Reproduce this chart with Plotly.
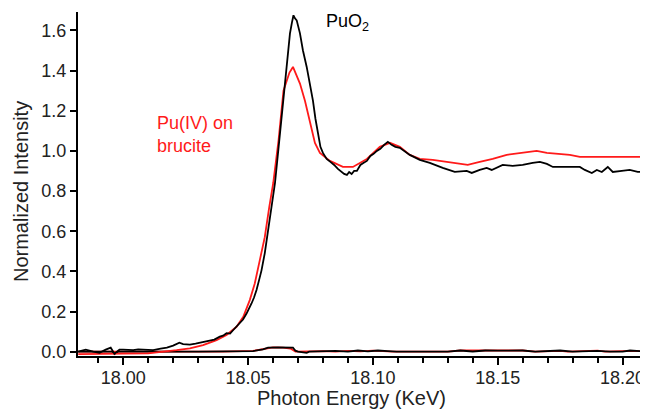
import plotly.graph_objects as go

# PuO2 spectrum (black)
puo2_energy = [17.9820, 17.9850, 17.9880, 17.9905, 17.9930, 17.9950, 17.9965, 17.9985, 18.0000, 18.0040,
               18.0060, 18.0090, 18.0120, 18.0150, 18.0175, 18.0200, 18.0225, 18.0240, 18.0267, 18.0290,
               18.0307, 18.0330, 18.0347, 18.0365, 18.0387, 18.0400, 18.0414, 18.0428, 18.0441, 18.0455,
               18.0467, 18.0480, 18.0494, 18.0505, 18.0514, 18.0524, 18.0534, 18.0545, 18.0554, 18.0567,
               18.0581, 18.0594, 18.0608, 18.0621, 18.0635, 18.0648, 18.0658, 18.0668, 18.0676, 18.0682,
               18.0688, 18.0695, 18.0708, 18.0720, 18.0735, 18.0748, 18.0760, 18.0770, 18.0780, 18.0790,
               18.0800, 18.0815, 18.0830, 18.0845, 18.0860, 18.0875, 18.0885, 18.0896, 18.0905, 18.0915,
               18.0925, 18.0936, 18.0950, 18.0962, 18.0976, 18.0990, 18.1003, 18.1016, 18.1030, 18.1045,
               18.1060, 18.1075, 18.1090, 18.1108, 18.1148, 18.1188, 18.1228, 18.1280, 18.1328, 18.1376,
               18.1396, 18.1428, 18.1456, 18.1476, 18.1520, 18.1560, 18.1600, 18.1640, 18.1669, 18.1697,
               18.1721, 18.1800, 18.1829, 18.1849, 18.1877, 18.1897, 18.1917, 18.1941, 18.1961, 18.1997,
               18.2029, 18.2061, 18.2089]
puo2_intensity = [0.000, 0.010, 0.000, -0.005, 0.010, 0.020, -0.010, 0.010, 0.010, 0.008,
                  0.012, 0.010, 0.008, 0.015, 0.020, 0.030, 0.045, 0.038, 0.035, 0.040,
                  0.045, 0.050, 0.058, 0.060, 0.075, 0.080, 0.092, 0.090, 0.108, 0.125,
                  0.142, 0.160, 0.190, 0.215, 0.240, 0.270, 0.307, 0.360, 0.405, 0.490,
                  0.605, 0.720, 0.840, 1.000, 1.170, 1.340, 1.470, 1.585, 1.640, 1.675,
                  1.660, 1.650, 1.585, 1.500, 1.418, 1.330, 1.250, 1.160, 1.085, 1.020,
                  0.990, 0.960, 0.945, 0.930, 0.910, 0.895, 0.885, 0.880, 0.895, 0.885,
                  0.900, 0.900, 0.930, 0.940, 0.950, 0.975, 0.985, 1.000, 1.010, 1.030,
                  1.045, 1.030, 1.020, 1.015, 0.980, 0.955, 0.940, 0.915, 0.895, 0.900,
                  0.890, 0.905, 0.915, 0.905, 0.930, 0.925, 0.930, 0.940, 0.945, 0.935,
                  0.920, 0.920, 0.920, 0.905, 0.890, 0.905, 0.895, 0.920, 0.895, 0.900,
                  0.905, 0.895, 0.895]

# Pu(IV) on brucite spectrum (red)
brucite_energy = [17.9820, 17.9900, 18.0000, 18.0100, 18.0150, 18.0214, 18.0267, 18.0320, 18.0374, 18.0414,
                  18.0454, 18.0481, 18.0507, 18.0527, 18.0547, 18.0567, 18.0585, 18.0601, 18.0614, 18.0622,
                  18.0642, 18.0666, 18.0680, 18.0708, 18.0728, 18.0748, 18.0768, 18.0788, 18.0828, 18.0880,
                  18.0920, 18.0976, 18.1028, 18.1068, 18.1108, 18.1148, 18.1188, 18.1240, 18.1296, 18.1340,
                  18.1380, 18.1428, 18.1480, 18.1536, 18.1600, 18.1656, 18.1697, 18.1737, 18.1789, 18.1829,
                  18.2100]
brucite_intensity = [-0.012, -0.012, -0.010, -0.008, -0.002, 0.008, 0.017, 0.033, 0.058, 0.083,
                     0.124, 0.174, 0.257, 0.340, 0.455, 0.570, 0.720, 0.840, 0.970, 1.050,
                     1.300, 1.390, 1.418, 1.335, 1.250, 1.150, 1.040, 0.990, 0.950, 0.920,
                     0.920, 0.960, 1.020, 1.040, 1.020, 0.980, 0.960, 0.955, 0.945, 0.940,
                     0.930, 0.945, 0.960, 0.980, 0.990, 1.000, 0.990, 0.985, 0.980, 0.970,
                     0.970]

# residual traces near zero
res_black_energy = [17.982, 17.990, 17.9955, 17.9965, 17.998, 18.030, 18.045, 18.052, 18.056, 18.058,
                    18.062, 18.066, 18.068, 18.069, 18.070, 18.0735, 18.0745, 18.078, 18.085, 18.090,
                    18.094, 18.098, 18.102, 18.106, 18.1095, 18.130, 18.135, 18.140, 18.145, 18.150,
                    18.155, 18.160, 18.165, 18.170, 18.175, 18.180, 18.190, 18.195, 18.200, 18.203, 18.210]
res_black_value = [0.000, 0.000, 0.000, -0.012, 0.000, 0.000, 0.002, 0.003, 0.012, 0.020,
                   0.022, 0.020, 0.020, 0.005, 0.000, -0.006, 0.000, 0.002, 0.004, 0.000,
                   0.006, 0.002, 0.006, 0.003, 0.000, 0.000, 0.006, 0.001, 0.006, 0.005,
                   0.004, 0.006, 0.000, 0.002, 0.006, 0.000, 0.004, 0.000, 0.000, 0.006, 0.000]
res_red_energy = [17.982, 18.040, 18.052, 18.057, 18.060, 18.064, 18.067, 18.069, 18.080, 18.085,
                  18.090, 18.095, 18.100, 18.108, 18.130, 18.135, 18.145, 18.155, 18.160, 18.165,
                  18.175, 18.178, 18.190, 18.193, 18.203, 18.210]
res_red_value = [0.000, 0.000, 0.004, 0.015, 0.022, 0.020, 0.016, 0.000, 0.003, 0.000,
                 0.004, 0.002, 0.005, 0.000, 0.000, 0.006, 0.007, 0.007, 0.006, 0.000,
                 0.004, 0.000, 0.005, 0.000, 0.004, 0.002]

x_ticks = [18.00, 18.05, 18.10, 18.15, 18.20]
x_tick_labels = ["18.00", "18.05", "18.10", "18.15", "18.20"]
y_ticks = [0.0, 0.2, 0.4, 0.6, 0.8, 1.0, 1.2, 1.4, 1.6]
y_tick_labels = ["0.0", "0.2", "0.4", "0.6", "0.8", "1.0", "1.2", "1.4", "1.6"]

RED = "#ff1a1a"
TEXT = "#222222"
fig = go.Figure()
fig.add_trace(go.Scatter(x=res_red_energy, y=res_red_value, mode="lines",
                         line=dict(color=RED, width=1.8), name="Pu(IV) residual"))
fig.add_trace(go.Scatter(x=res_black_energy, y=res_black_value, mode="lines",
                         line=dict(color="black", width=1.8), name="PuO2 residual"))
fig.add_trace(go.Scatter(x=brucite_energy, y=brucite_intensity, mode="lines",
                         line=dict(color=RED, width=1.8), name="Pu(IV) on brucite"))
fig.add_trace(go.Scatter(x=puo2_energy, y=puo2_intensity, mode="lines",
                         line=dict(color="black", width=1.8), name="PuO2"))

fig.add_annotation(x=18.0804, y=1.64, text="PuO<sub>2</sub>", showarrow=False,
                   xanchor="left", yanchor="middle", font=dict(size=18, color="black"))
fig.add_annotation(x=18.0127, y=1.083, text="Pu(IV) on<br>brucite", showarrow=False,
                   xanchor="left", yanchor="middle", align="left",
                   font=dict(size=18, color=RED))
# axis titles
fig.add_annotation(xref="paper", yref="paper", x=0.479, y=0, yshift=-29,
                   xanchor="center", yanchor="top", showarrow=False,
                   text="Photon Energy (KeV)", font=dict(size=20, color=TEXT))
fig.add_annotation(xref="paper", yref="paper", x=0, y=0.4767, xshift=-44,
                   xanchor="right", yanchor="middle", textangle=-90, showarrow=False,
                   text="Normalized Intensity", font=dict(size=20, color=TEXT))

font_family = "Liberation Sans, Arial, sans-serif"
# The page body adds an 8px offset, so the figure is 640x401 to fill the 648x409 window.
fig.update_layout(
    width=640, height=401,
    margin=dict(l=70, r=0, t=4, b=53),
    plot_bgcolor="white", paper_bgcolor="white",
    showlegend=False,
    font=dict(family=font_family, color=TEXT),
    xaxis=dict(range=[17.9819, 18.2102], tickvals=x_ticks, ticktext=x_tick_labels,
               showline=True, linecolor="black", linewidth=2, ticks="outside",
               ticklen=7, tickwidth=1.5, tickcolor="black", showgrid=False, zeroline=False,
               tickfont=dict(size=18), ticklabelstandoff=-3,
               minor=dict(dtick=0.01, tick0=18.0, ticks="outside", ticklen=5, tickwidth=1.5,
                          tickcolor="black", showgrid=False)),
    yaxis=dict(range=[-0.0214, 1.6915], tickvals=y_ticks, ticktext=y_tick_labels,
               showline=True, linecolor="black", linewidth=2, ticks="outside",
               ticklen=6, tickwidth=1.5, tickcolor="black", showgrid=False, zeroline=False,
               tickfont=dict(size=18)),
)

fig.write_html("out.html")
